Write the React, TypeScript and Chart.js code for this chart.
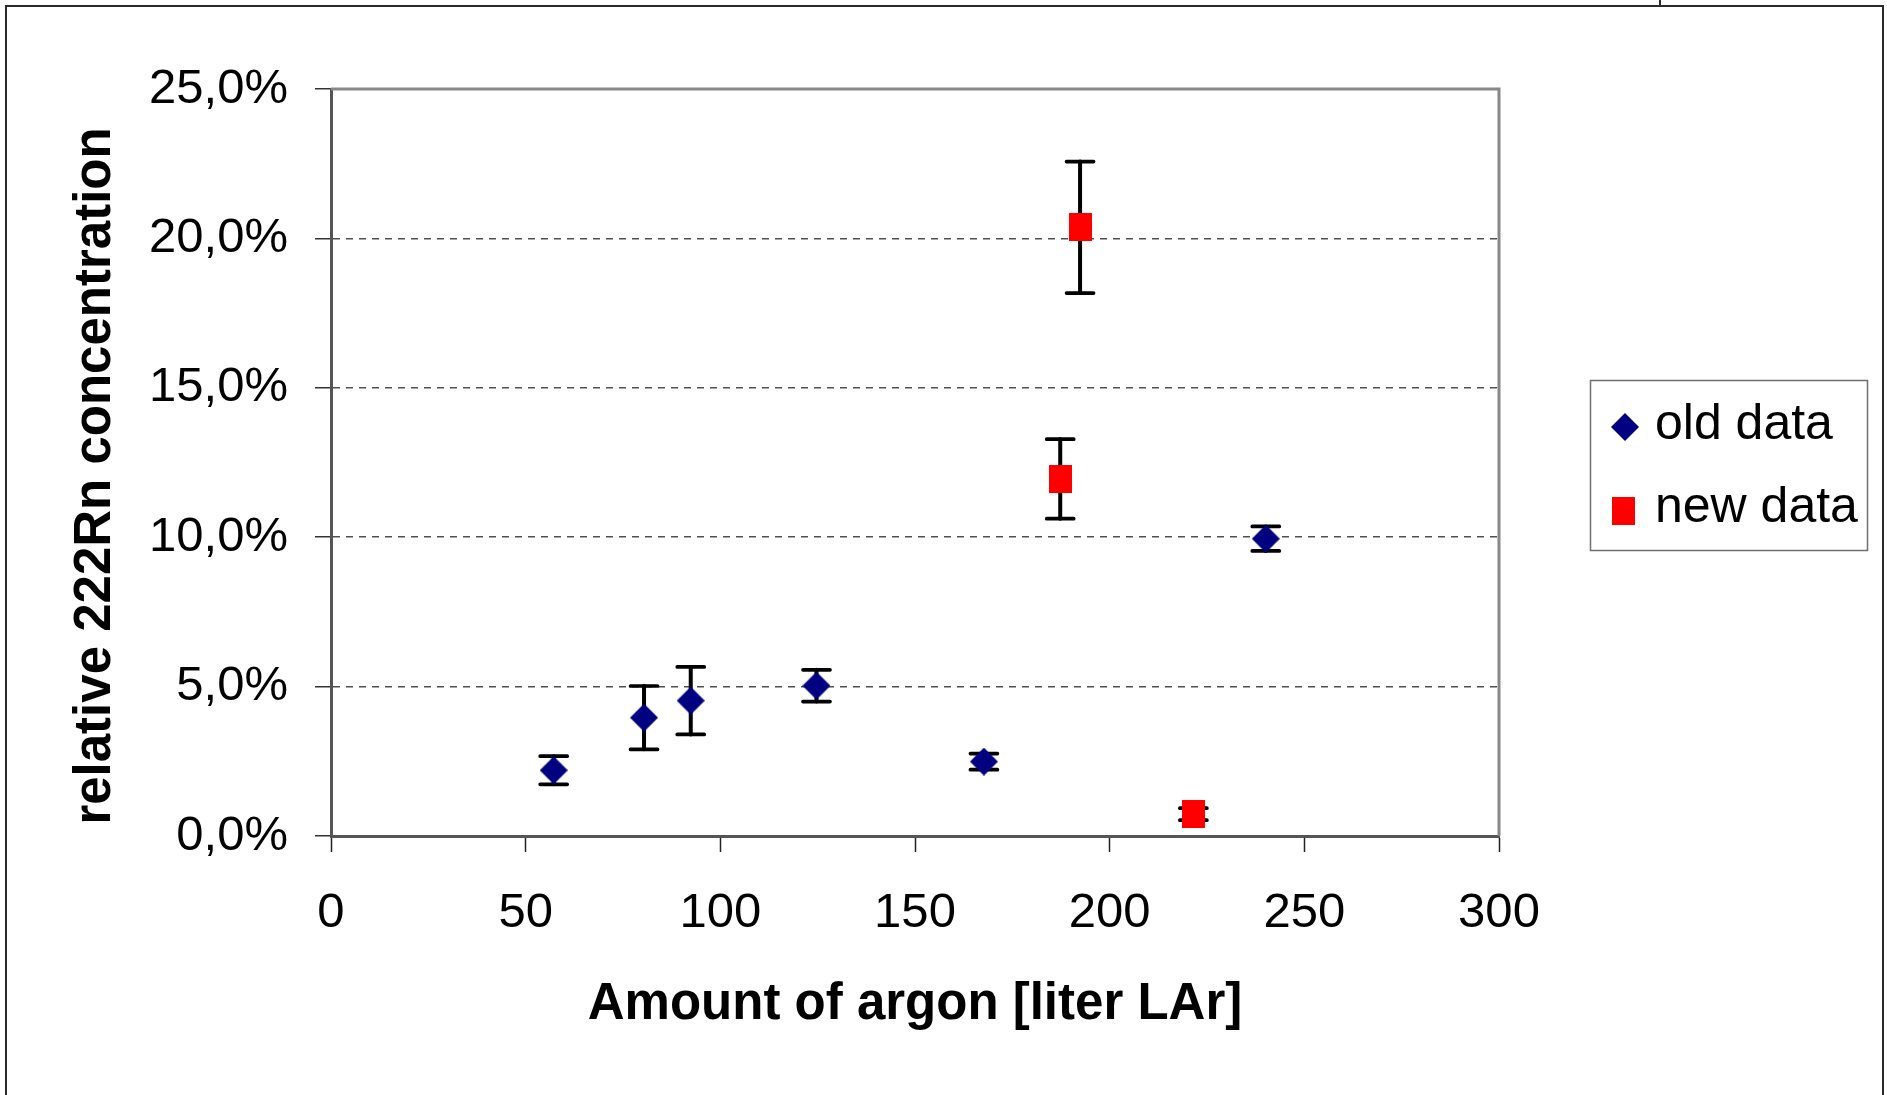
import React, { useEffect, useRef } from 'react';
import { Chart, registerables } from 'chart.js';

Chart.register(...registerables);

// ---- data ----
const seriesLabels = ['old data', 'new data'];
const oldX = [57.2, 80.4, 92.4, 124.7, 167.7, 240.1];
const oldY = [2.2, 3.96, 4.53, 5.03, 2.49, 9.95];
const oldErr = [0.47, 1.06, 1.13, 0.53, 0.27, 0.41];
const newX = [192.4, 187.3, 221.5];
const newY = [20.37, 11.95, 0.73];
const newErr = [2.2, 1.33, 0.2];
const xRange = [0, 300];
const xStep = 50;
const yRange = [0, 25];
const yStep = 5;
const xAxisTitle = 'Amount of argon [liter LAr]';
const yAxisTitle = 'relative 222Rn concentration';

const FONT = "'Liberation Sans', Arial, Helvetica, sans-serif";
const OLD_COLOR = '#000080';
const NEW_COLOR = '#FF0000';

const framePlugin = {
  id: 'frame',
  beforeDraw(chart: any) {
    const ctx = chart.ctx;
    ctx.save();
    ctx.fillStyle = '#ffffff';
    ctx.fillRect(0, 0, chart.width, chart.height);
    ctx.strokeStyle = '#2a2a2a';
    ctx.lineWidth = 2;
    ctx.strokeRect(6, 6, 1877, 1200);
    ctx.beginPath();
    ctx.moveTo(1660, 0);
    ctx.lineTo(1660, 6);
    ctx.stroke();
    ctx.restore();
  },
  beforeDatasetsDraw(chart: any) {
    const ctx = chart.ctx;
    const { left, right, top, bottom } = chart.chartArea;
    ctx.save();
    ctx.strokeStyle = '#888888';
    ctx.lineWidth = 3;
    ctx.beginPath();
    ctx.moveTo(left, top);
    ctx.lineTo(right, top);
    ctx.lineTo(right, bottom);
    ctx.stroke();
    ctx.restore();
  },
};

const errorBarPlugin = {
  id: 'errorBars',
  beforeDatasetsDraw(chart: any) {
    const ctx = chart.ctx;
    const xs = chart.scales.x;
    const ys = chart.scales.y;
    ctx.save();
    ctx.strokeStyle = '#000000';
    ctx.lineCap = 'round';
    chart.data.datasets.forEach((ds: any) => {
      const errs: number[] = ds.errorBars || [];
      ds.data.forEach((p: any, j: number) => {
        const e = errs[j];
        if (e == null) return;
        const x = xs.getPixelForValue(p.x);
        const yt = ys.getPixelForValue(p.y + e);
        const yb = ys.getPixelForValue(p.y - e);
        ctx.lineWidth = 4;
        ctx.beginPath();
        ctx.moveTo(x, yt);
        ctx.lineTo(x, yb);
        ctx.stroke();
        ctx.lineWidth = 3.7;
        ctx.beginPath();
        ctx.moveTo(x - 13.5, yt);
        ctx.lineTo(x + 13.5, yt);
        ctx.moveTo(x - 13.5, yb);
        ctx.lineTo(x + 13.5, yb);
        ctx.stroke();
      });
    });
    ctx.restore();
  },
};

const legendTitlePlugin = {
  id: 'legendBox',
  afterDraw(chart: any) {
    const ctx = chart.ctx;
    ctx.save();
    // legend
    ctx.strokeStyle = '#707070';
    ctx.lineWidth = 1.5;
    ctx.strokeRect(1590.5, 380.5, 277, 170);
    const spots = [
      { cx: 1625, cy: 427, tx: 1655, ty: 438.5 },
      { cx: 1623.5, cy: 510.5, tx: 1655, ty: 522 },
    ];
    chart.data.datasets.forEach((ds: any, i: number) => {
      const s = spots[i];
      const img = ds.pointStyle as HTMLCanvasElement;
      ctx.drawImage(img, Math.round(s.cx - img.width / 2), Math.round(s.cy - img.height / 2));
      ctx.font = `50px ${FONT}`;
      ctx.fillStyle = '#000000';
      ctx.textAlign = 'left';
      ctx.textBaseline = 'alphabetic';
      ctx.fillText(ds.label, s.tx, s.ty);
    });
    // y axis title
    ctx.translate(110, 476);
    ctx.rotate(-Math.PI / 2);
    ctx.font = `bold 51px ${FONT}`;
    ctx.textAlign = 'center';
    ctx.textBaseline = 'alphabetic';
    ctx.fillStyle = '#000000';
    ctx.fillText(yAxisTitle, 0, 0);
    ctx.restore();
  },
};

export default function App() {
  const ref = useRef<HTMLCanvasElement>(null);

  useEffect(() => {
    const canvas = ref.current!;

    const diamond = document.createElement('canvas');
    diamond.width = 28;
    diamond.height = 28;
    const dctx = diamond.getContext('2d')!;
    dctx.fillStyle = OLD_COLOR;
    dctx.beginPath();
    dctx.moveTo(14, 0);
    dctx.lineTo(28, 14);
    dctx.lineTo(14, 28);
    dctx.lineTo(0, 14);
    dctx.closePath();
    dctx.fill();

    const square = document.createElement('canvas');
    square.width = 23;
    square.height = 28;
    const sctx = square.getContext('2d')!;
    sctx.fillStyle = NEW_COLOR;
    sctx.fillRect(0, 0, 23, 28);

    const chart = new Chart(canvas, {
      type: 'scatter',
      data: {
        datasets: [
          {
            label: seriesLabels[0],
            data: oldX.map((x, i) => ({ x, y: oldY[i] })),
            pointStyle: diamond as any,
            pointRadius: 14,
            backgroundColor: OLD_COLOR,
            borderColor: OLD_COLOR,
            errorBars: oldErr,
          } as any,
          {
            label: seriesLabels[1],
            data: newX.map((x, i) => ({ x, y: newY[i] })),
            pointStyle: square as any,
            pointRadius: 14,
            backgroundColor: NEW_COLOR,
            borderColor: NEW_COLOR,
            errorBars: newErr,
          } as any,
        ],
      },
      options: {
        animation: false,
        responsive: false,
        devicePixelRatio: 1,
        layout: { padding: { top: 89, right: 388, bottom: 0, left: 0 } },
        plugins: {
          legend: { display: false },
          tooltip: { enabled: false },
        },
        scales: {
          x: {
            type: 'linear',
            min: xRange[0],
            max: xRange[1],
            afterFit: (s: any) => {
              s.height = 259;
            },
            ticks: {
              stepSize: xStep,
              font: { family: FONT, size: 49 },
              color: '#000000',
              padding: 32,
              maxRotation: 0,
              autoSkip: false,
            },
            grid: {
              drawOnChartArea: false,
              drawTicks: true,
              tickLength: 16,
              tickColor: '#222222',
              tickWidth: 1.5,
            },
            border: { color: '#555555', width: 3 },
            title: {
              display: true,
              text: xAxisTitle,
              font: { family: FONT, size: 51, weight: 'bold' },
              color: '#000000',
              padding: { top: 0, bottom: 59 },
            },
          },
          y: {
            type: 'linear',
            min: yRange[0],
            max: yRange[1],
            afterFit: (s: any) => {
              s.width = 331;
            },
            ticks: {
              stepSize: yStep,
              font: { family: FONT, size: 49 },
              color: '#000000',
              padding: 27,
              callback: (v: any) => Number(v).toFixed(1).replace('.', ',') + '%',
            },
            grid: {
              color: (c: any) =>
                c.tick && (c.tick.value === yRange[0] || c.tick.value === yRange[1])
                  ? 'rgba(0,0,0,0)'
                  : '#505050',
              lineWidth: 1.5,
              drawTicks: true,
              tickLength: 16,
              tickColor: '#333333',
              tickWidth: 1.5,
            },
            border: { color: '#555555', width: 3, dash: [7, 6] },
          },
        },
      } as any,
      plugins: [framePlugin, errorBarPlugin, legendTitlePlugin],
    });

    return () => chart.destroy();
  }, []);

  return (
    <div style={{ position: 'absolute', left: 0, top: 0, width: 1887, height: 1095, background: '#ffffff' }}>
      <canvas ref={ref} width={1887} height={1095} style={{ display: 'block', width: 1887, height: 1095 }} />
    </div>
  );
}
